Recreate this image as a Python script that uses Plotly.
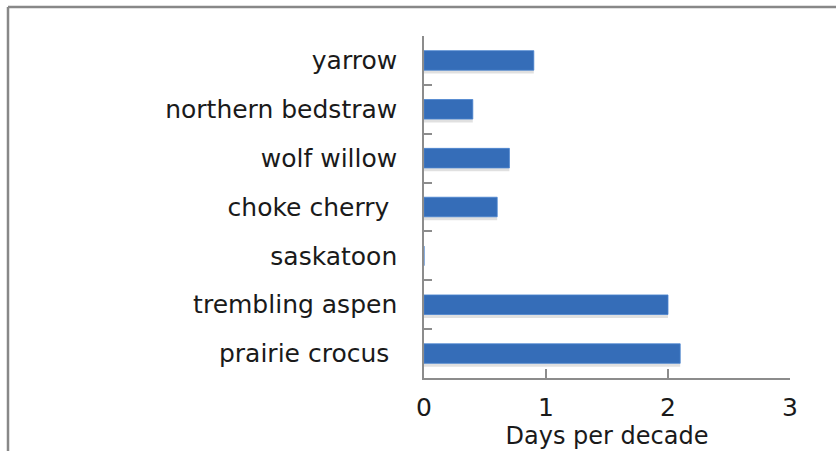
import plotly.graph_objects as go

# categories listed bottom to top, as drawn
species = ['prairie crocus\u00a0', 'trembling aspen', 'saskatoon', 'choke cherry\u00a0',
           'wolf willow', 'northern bedstraw', 'yarrow']
days_per_decade = [2.1, 2.0, 0.0, 0.6, 0.7, 0.4, 0.9]

x_ticks = [0, 1, 2, 3]

font_family = 'DejaVu Sans, Verdana, sans-serif'

fig = go.Figure()

# soft drop shadow under each bar
fig.add_trace(go.Bar(x=days_per_decade, y=species, orientation='h',
                     width=0.4, offset=-0.27,
                     marker=dict(color='rgba(0,0,0,0.12)', line=dict(width=0)),
                     hoverinfo='skip', showlegend=False))

fig.add_trace(go.Bar(x=days_per_decade, y=species, orientation='h',
                     width=0.4, offset=-0.2,
                     marker=dict(color='#356db8', line=dict(color='#4a84cf', width=0.8)),
                     showlegend=False))

# chart frame: only left and top edges fall inside the picture
left = (8 - 424) / 366
top = (378 - 7) / 342
frame = dict(color='#888888', width=2.5)

fig.update_layout(
    width=836, height=451,
    margin=dict(l=424, r=46, t=36, b=73),
    paper_bgcolor='white', plot_bgcolor='white',
    barmode='overlay',
    font=dict(family=font_family, size=25, color='#1a1a1a'),
    xaxis=dict(range=[0, 3], tickvals=x_ticks, showgrid=False, zeroline=False,
               automargin=False,
               showline=True, linecolor='#8c8c8c', linewidth=1.5,
               ticks='inside', ticklen=9, tickcolor='#8c8c8c', tickwidth=1.5,
               ticklabelstandoff=6,
               title=dict(text='Days per decade', standoff=4,
                          font=dict(size=24, family=font_family))),
    yaxis=dict(showgrid=False, showline=True, linecolor='#8c8c8c', linewidth=1.5,
               automargin=False,
               ticks='inside', ticklen=8, tickcolor='#8c8c8c', tickwidth=1.5,
               tickson='boundaries', ticklabelstandoff=20,
               categoryorder='array', categoryarray=species),
    shapes=[dict(type='line', xref='paper', yref='paper',
                 x0=left, x1=left, y0=-0.3, y1=top, line=frame),
            dict(type='line', xref='paper', yref='paper',
                 x0=left, x1=1.3, y0=top, y1=top, line=frame)],
)

# page body margin would shift the figure by 8px
fig.write_html('out.html', config={'displayModeBar': False},
               post_script="document.body.style.margin='0';")
